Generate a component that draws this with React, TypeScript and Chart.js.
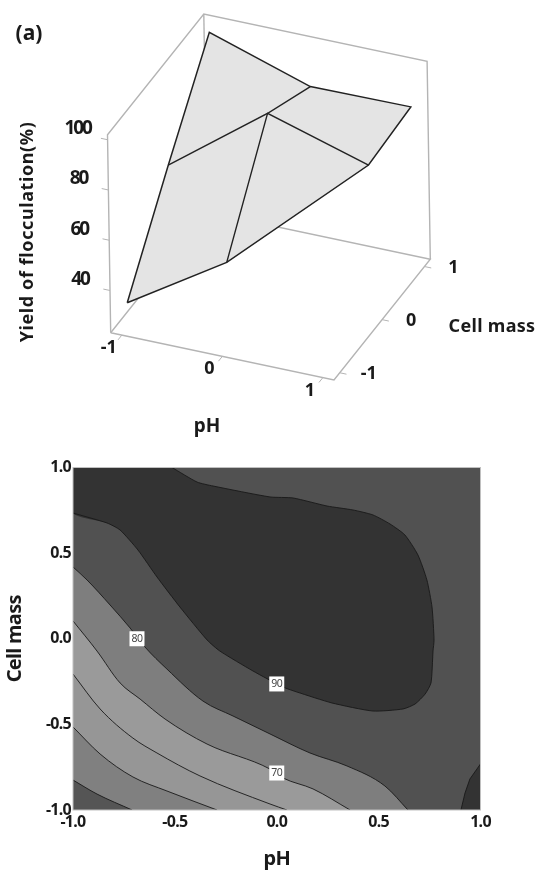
import React, { useEffect, useRef } from "react";
import { Chart, registerables } from "chart.js";

Chart.register(...registerables);

// ---- top panel: response surface (coded pH, coded cell mass, yield %)
const surfacePH = [-1, 0, 1];
const surfaceCell = [-1, 0, 1];
// yield[cellIndex][pHIndex]; the (pH=1, cell=-1) corner is not part of the surface
const surfaceYield: (number | null)[][] = [
  [33.2, 57.7, null],
  [66.8, 95.9, 83.8],
  [98.5, 85.4, 85.8],
];
const yieldTicks = [40, 60, 80, 100];
const codedTicks = [-1, 0, 1];

// ---- bottom panel: contour lines [pH, cell mass]
type P = [number, number];
const darkContour: P[] = [
  [-0.514, 1], [-0.391, 0.915], [-0.313, 0.892], [-0.033, 0.828], [0.08, 0.822], [0.247, 0.775],
  [0.374, 0.752], [0.472, 0.723], [0.556, 0.67], [0.629, 0.606], [0.693, 0.489], [0.737, 0.343],
  [0.762, 0.185], [0.772, -0.007], [0.767, -0.072], [0.757, -0.258], [0.728, -0.323], [0.679, -0.381],
  [0.62, -0.41], [0.472, -0.422], [0.271, -0.375], [0.099, -0.311], [0.031, -0.282], [-0.117, -0.188],
  [-0.279, -0.072], [-0.342, -0.007], [-0.475, 0.185], [-0.588, 0.361], [-0.681, 0.518], [-0.769, 0.635],
  [-0.833, 0.676], [-1, 0.734],
];
const cornerContour: P[] = [[1, -0.731], [0.948, -0.819], [0.924, -0.901], [0.904, -1]];
const contourB: P[] = [
  [-1, 0.419], [-0.931, 0.343], [-0.818, 0.197], [-0.72, 0.063], [-0.647, -0.048], [-0.539, -0.177],
  [-0.362, -0.364], [-0.215, -0.451], [-0.033, -0.556], [0.163, -0.667], [0.345, -0.743], [0.531, -0.86], [0.644, -1],
];
const contourC: P[] = [
  [-1, 0.104], [-0.882, -0.072], [-0.769, -0.258], [-0.671, -0.352], [-0.548, -0.469], [-0.342, -0.615],
  [-0.033, -0.761], [0.031, -0.813], [0.178, -0.877], [0.36, -1],
];
const contourD: P[] = [
  [-1, -0.206], [-0.867, -0.41], [-0.706, -0.58], [-0.588, -0.667], [-0.377, -0.801], [-0.033, -0.965], [0.05, -1],
];
const contourE: P[] = [[-1, -0.515], [-0.867, -0.673], [-0.706, -0.807], [-0.539, -0.889], [-0.293, -1]];
const contourF: P[] = [[-1, -0.825], [-0.882, -0.907], [-0.71, -1]];
const contourLabels: { x: number; y: number; text: string }[] = [
  { x: -0.686, y: 0, text: "80" },
  { x: 0, y: -0.264, text: "90" },
  { x: 0, y: -0.784, text: "70" },
];
const contourTicks = [-1, -0.5, 0, 0.5, 1];

// ---- view of the 3-D box
const Y_MIN = 23.2;
const Y_MAX = 102;
const GREY = "#b4b4b4";
const INK = "#222222";
const FONT = '"Noto Sans", sans-serif';

function box(u: number, v: number, w: number) {
  return {
    x: 110.7 + 223.3 * u + 96.3 * v - 3.2 * w,
    y: 332.7 + 47.3 * u - 120.7 * v - 198 * w,
  };
}
const uOf = (ph: number) => 0.05 + 0.45 * (ph + 1);
const vOf = (c: number) => 0.06 + 0.44 * (c + 1);
const wOf = (y: number) => (y - Y_MIN) / (Y_MAX - Y_MIN);
const surf = (i: number, j: number) =>
  box(uOf(surfacePH[i]), vOf(surfaceCell[j]), wOf(surfaceYield[j][i] as number));

// Chart.js paints the first dataset last, so `order` is set from paint order.
const layered = (list: any[]) => list.map((d, i) => ({ ...d, order: list.length - i }));

const lineDs = (data: { x: number; y: number }[], color: string, width: number, extra = {}) => ({
  type: "scatter" as const,
  data,
  showLine: true,
  pointRadius: 0,
  tension: 0,
  borderColor: color,
  borderWidth: width,
  fill: false,
  ...extra,
});

function text(
  ctx: CanvasRenderingContext2D,
  s: string,
  x: number,
  y: number,
  font: string,
  spacing = "0px",
  rot = 0,
  color = "#1a1a1a",
) {
  ctx.save();
  ctx.translate(x, y);
  ctx.rotate(rot);
  ctx.font = font;
  (ctx as any).letterSpacing = spacing;
  ctx.fillStyle = color;
  ctx.textAlign = "center";
  ctx.textBaseline = "middle";
  ctx.fillText(s, 0, 0);
  ctx.restore();
}

const toXY = (pts: P[]) => pts.map(([x, y]) => ({ x, y }));

export default function App() {
  const topRef = useRef<HTMLCanvasElement>(null);
  const botRef = useRef<HTMLCanvasElement>(null);

  useEffect(() => {
    // ---------------- top chart
    const boxEdges = [
      [box(0, 0, 0), box(1, 0, 0), box(1, 1, 0), box(0, 1, 0), box(0, 0, 0)],
      [box(0, 0, 0), box(0, 0, 1), box(0, 1, 1), box(1, 1, 1), box(1, 1, 0)],
      [box(0, 1, 0), box(0, 1, 1)],
    ];
    const ticks3d = [
      ...yieldTicks.map((y) => [box(0, 0, wOf(y)), box(-0.03, 0, wOf(y))]),
      ...codedTicks.map((p) => [box(uOf(p), 0, 0), box(uOf(p), -0.04, 0)]),
      ...codedTicks.map((c) => [box(1, vOf(c), 0), box(1.03, vOf(c), 0)]),
    ];
    const outline = [surf(0, 0), surf(1, 0), surf(2, 1), surf(2, 2), surf(1, 2), surf(0, 2), surf(0, 1), surf(0, 0)];
    const inner = [
      [surf(0, 1), surf(1, 1), surf(2, 1)],
      [surf(1, 0), surf(1, 1), surf(1, 2)],
    ];
    const topLabels = {
      id: "topLabels",
      afterDraw(chart: any) {
        const { ctx } = chart;
        const sx = chart.scales.x;
        const sy = chart.scales.y;
        const at = (p: { x: number; y: number }, dx: number, dy: number) => [
          sx.getPixelForValue(p.x + dx),
          sy.getPixelForValue(p.y + dy),
        ];
        const bold = (n: number) => `bold ${n}px ${FONT}`;
        yieldTicks.forEach((y) => {
          const [a, b] = at(box(0, 0, wOf(y)), -30, -11);
          text(ctx, String(y), a, b, bold(19), "-2.2px");
        });
        codedTicks.forEach((p) => {
          const [a, b] = at(box(uOf(p), 0, 0), -13, 13);
          text(ctx, String(p), a, b, bold(18));
        });
        codedTicks.forEach((c) => {
          const [a, b] = at(box(1, vOf(c), 0), 0, 0);
          text(ctx, String(c), a + 29, b + 1, bold(18));
        });
        text(ctx, "(a)", 29, 34, bold(21));
        text(ctx, "Yield of flocculation(%)", 28, 232, bold(18), "0.6px", -Math.PI / 2);
        text(ctx, "pH", 207, 427, bold(19));
        text(ctx, "Cell mass", 492, 327, bold(18), "0.3px");
      },
    };
    const top = new Chart(topRef.current!, {
      type: "scatter",
      data: {
        datasets: layered([
          ...boxEdges.map((d) => lineDs(d, GREY, 1.4)),
          ...ticks3d.map((d) => lineDs(d, GREY, 1)),
          lineDs(outline, INK, 1.5, { fill: "shape", backgroundColor: "#e4e4e4" }),
          ...inner.map((d) => lineDs(d, INK, 1.4)),
        ]),
      },
      options: {
        animation: false,
        responsive: false,
        layout: { padding: 0 },
        plugins: { legend: { display: false }, tooltip: { enabled: false } },
        scales: {
          x: { type: "linear", min: 0, max: 540, display: false },
          y: { type: "linear", min: 0, max: 440, reverse: true, display: false },
        },
      },
      plugins: [topLabels],
    } as any);

    // ---------------- bottom chart
    const LINE = "rgba(25,25,25,0.9)";
    const bands: { pts: P[]; color: string }[] = [
      { pts: [[-1, 1], [1, 1]], color: "#515151" },
      { pts: contourB, color: "#7e7e7e" },
      { pts: contourC, color: "#9a9a9a" },
      { pts: contourD, color: "#969696" },
      { pts: contourE, color: "#808080" },
      { pts: contourF, color: "#555555" },
    ];
    const bandSets = bands.map((b, i) =>
      lineDs(toXY(b.pts), i === 0 ? "transparent" : LINE, i === 0 ? 0 : 1, {
        fill: "start",
        backgroundColor: b.color,
        cubicInterpolationMode: "monotone",
      }),
    );
    const darkFills = [
      { pts: [...darkContour, [-1, 1]] as P[], tension: 0.2 },
      { pts: [...cornerContour, [1, -1]] as P[], tension: 0 },
    ].map((r) =>
      lineDs(toXY(r.pts), "transparent", 0, { fill: "shape", backgroundColor: "#333333", tension: r.tension }),
    );
    const darkLines = [
      lineDs(toXY(darkContour), LINE, 1, { tension: 0.2 }),
      lineDs(toXY(cornerContour), LINE, 1),
    ];
    const botDecor = {
      id: "botDecor",
      beforeDraw(chart: any) {
        chart.ctx.letterSpacing = "-0.7px";
      },
      afterDraw(chart: any) {
        const { ctx, chartArea: a } = chart;
        ctx.save();
        ctx.strokeStyle = "#c0c0c0";
        ctx.lineWidth = 1;
        ctx.strokeRect(a.left, a.top, a.right - a.left, a.bottom - a.top);
        contourLabels.forEach((l) => {
          const px = chart.scales.x.getPixelForValue(l.x);
          const py = chart.scales.y.getPixelForValue(l.y);
          ctx.fillStyle = "#ffffff";
          ctx.fillRect(px - 7.5, py - 7.5, 15, 15);
          text(ctx, l.text, px, py, `10.5px ${FONT}`, "-0.5px", 0, "#444444");
        });
        ctx.restore();
      },
    };
    const tickFont = { family: '"Noto Sans", sans-serif', size: 16, weight: "bold" as const };
    const titleFont = { family: '"Noto Sans", sans-serif', size: 20, weight: "bold" as const };
    const bot = new Chart(botRef.current!, {
      type: "scatter",
      data: { datasets: layered([...bandSets, ...darkFills, ...darkLines]) },
      options: {
        animation: false,
        responsive: false,
        layout: { padding: { top: 27.5, right: 59.5, left: 0, bottom: 0 } },
        plugins: { legend: { display: false }, tooltip: { enabled: false } },
        scales: {
          x: {
            type: "linear",
            min: -1,
            max: 1,
            afterBuildTicks: (s: any) => {
              s.ticks = contourTicks.map((value) => ({ value }));
            },
            afterFit: (s: any) => {
              s.height = 61;
            },
            grid: { display: false, drawTicks: false },
            border: { display: false },
            ticks: {
              color: "#1a1a1a",
              font: tickFont,
              padding: 3,
              maxRotation: 0,
              autoSkip: false,
              callback: (v: any) => Number(v).toFixed(1),
            },
            title: { display: true, text: "pH", color: "#1a1a1a", font: titleFont, padding: { top: 0, bottom: 0 } },
          },
          y: {
            type: "linear",
            min: -1,
            max: 1,
            afterBuildTicks: (s: any) => {
              s.ticks = contourTicks.map((value) => ({ value }));
            },
            afterFit: (s: any) => {
              s.width = 73;
            },
            grid: { display: false, drawTicks: false },
            border: { display: false },
            ticks: {
              color: "#1a1a1a",
              font: tickFont,
              padding: 2,
              autoSkip: false,
              callback: (v: any) => Number(v).toFixed(1),
            },
            title: { display: true, text: "Cell mass", color: "#1a1a1a", font: titleFont, padding: { top: 3, bottom: 0 } },
          },
        },
      },
      plugins: [botDecor],
    } as any);
    return () => {
      top.destroy();
      bot.destroy();
    };
  }, []);

  return (
    <div style={{ position: "absolute", left: 0, top: 0, width: 540, height: 871, background: "#fff" }}>
      <canvas ref={topRef} width={540} height={440} style={{ position: "absolute", left: 0, top: 0 }} />
      <canvas ref={botRef} width={540} height={431} style={{ position: "absolute", left: 0, top: 440 }} />
    </div>
  );
}
